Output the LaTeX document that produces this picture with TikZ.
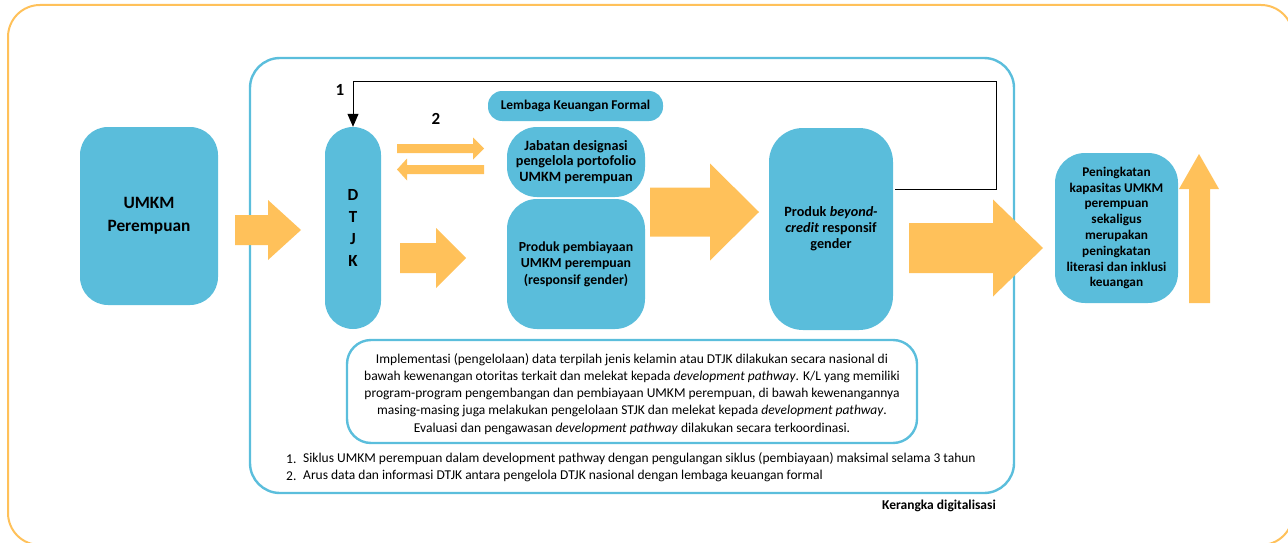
\documentclass[tikz,border=0pt]{standalone}
\usepackage{fontspec}
\setmainfont{Carlito}
\usetikzlibrary{arrows.meta}
\definecolor{bfill}{RGB}{90,189,219}
\definecolor{bline}{RGB}{91,190,220}
\definecolor{ora}{RGB}{255,193,90}
\newcommand{\blockarr}[6]{% x1, xhead, xtip, ycenter, shaft half, head half
  \fill[ora] (#1,#4-#5) -- (#2,#4-#5) -- (#2,#4-#6) -- (#3,#4) -- (#2,#4+#6) -- (#2,#4+#5) -- (#1,#4+#5) -- cycle;}
\begin{document}
\begin{tikzpicture}[x=1pt,y=-1pt,
  box/.style={fill=bfill,draw=none,inner sep=0pt,align=center,font=\bfseries},
  lbl/.style={inner sep=0pt,font=\bfseries}]
\useasboundingbox (0,0) rectangle (1288,543);
\begin{scope}
\clip (0,0) rectangle (1288,543);
\draw[ora,line width=2pt,rounded corners=32pt] (8,5) rectangle (1293,545);
\end{scope}
\draw[bline,line width=2.4pt,rounded corners=30pt] (250,58) rectangle (1014,493);
% boxes
\node[box,rounded corners=28pt,minimum width=138pt,minimum height=178pt,font=\bfseries\fontsize{17.3}{23}\selectfont] (umkm) at (149,216) {UMKM\\Perempuan};
\node[box,rounded corners=28pt,minimum width=56pt,minimum height=202pt,font=\bfseries\fontsize{17}{22.3}\selectfont] (dtjk) at (353,228) {D\\T\\J\\K};
\node[box,rounded corners=14pt,minimum width=175pt,minimum height=30pt,font=\bfseries\fontsize{13.4}{14}\selectfont] (lkf) at (575.5,106) {Lembaga Keuangan Formal};
\node[box,rounded corners=30pt,minimum width=138pt,minimum height=70pt,font=\bfseries\fontsize{14.2}{15.6}\selectfont] (jab) at (576,162) {Jabatan designasi\\pengelola portofolio\\UMKM perempuan};
\node[box,rounded corners=30pt,minimum width=138pt,minimum height=130pt,font=\bfseries\fontsize{13.8}{16.5}\selectfont] (prod) at (576,264) {Produk pembiayaan\\UMKM perempuan\\(responsif gender)};
\node[box,rounded corners=34pt,minimum width=124pt,minimum height=202pt,font=\bfseries\fontsize{14.2}{16}\selectfont] (beyond) at (831,229) {Produk \textit{beyond-}\\\textit{credit} responsif\\gender};
\node[box,rounded corners=30pt,minimum width=123pt,minimum height=150pt,font=\bfseries\fontsize{13.3}{15.8}\selectfont] (out) at (1116.5,228) {Peningkatan\\kapasitas UMKM\\perempuan\\sekaligus\\merupakan\\peningkatan\\literasi dan inklusi\\keuangan};
% block arrows
\blockarr{235}{268}{301}{230}{15}{30}
\blockarr{400}{436}{466}{258}{15}{30}
\blockarr{650}{710}{759}{212}{24.5}{48.5}
\blockarr{909}{993}{1043}{248}{25}{48.5}
\blockarr{397}{473}{484}{148.5}{4.5}{11}
\blockarr{484}{407}{397}{169.5}{4.5}{11}
\fill[ora] (1189,303) -- (1189,189) -- (1179,189) -- (1199,154) -- (1219,189) -- (1210,189) -- (1210,303) -- cycle;
% feedback connector
\coordinate (fa) at (895,189);
\coordinate (fb) at (996,189);
\coordinate (fc) at (996,82);
\coordinate (fd) at (353,82);
\draw[line width=1pt,-{Triangle[width=11pt,length=13pt]}] (fa) -- (fb) -- (fc) -- (fd) -- (dtjk.north);
\node[lbl,font=\bfseries\fontsize{17}{18}\selectfont] (n1) at (340,90) {1};
\node[lbl,font=\bfseries\fontsize{17}{18}\selectfont] (n2) at (436,119) {2};
% text box
\node[draw=bline,line width=2.4pt,rounded corners=24pt,minimum width=570pt,minimum height=103pt,inner sep=0pt] (tb) at (632,391.5) {};
\node[align=center,inner sep=0pt,font=\fontsize{13.5}{17.2}\selectfont] (tbt) at (632,394) {Implementasi (pengelolaan) data terpilah jenis kelamin atau DTJK dilakukan secara nasional di\\bawah kewenangan otoritas terkait dan melekat kepada \textit{development pathway}. K/L yang memiliki\\program-program pengembangan dan pembiayaan UMKM perempuan, di bawah kewenangannya\\masing-masing juga melakukan pengelolaan STJK dan melekat kepada \textit{development pathway}.\\Evaluasi dan pengawasan \textit{development pathway} dilakukan secara terkoordinasi.};
% footnotes
\node[anchor=west,inner sep=0pt,font=\fontsize{13.5}{14}\selectfont] (f1n) at (286,459) {1.};
\node[anchor=west,inner sep=0pt,font=\fontsize{13.5}{14}\selectfont] (f1) at (303,459) {Siklus UMKM perempuan dalam development pathway dengan pengulangan siklus (pembiayaan) maksimal selama 3 tahun};
\node[anchor=west,inner sep=0pt,font=\fontsize{13.5}{14}\selectfont] (f2n) at (286,476) {2.};
\node[anchor=west,inner sep=0pt,font=\fontsize{13.5}{14}\selectfont] (f2) at (303,476) {Arus data dan informasi DTJK antara pengelola DTJK nasional dengan lembaga keuangan formal};
\node[anchor=east,inner sep=0pt,font=\bfseries\fontsize{13.5}{14}\selectfont] (kd) at (996,506) {Kerangka digitalisasi};
\end{tikzpicture}
\end{document}
